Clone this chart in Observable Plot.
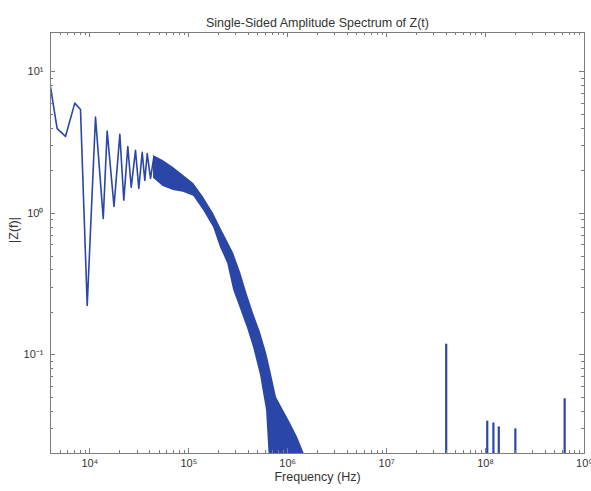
<!DOCTYPE html>
<html><head><meta charset="utf-8">
<script src="https://cdn.jsdelivr.net/npm/d3@7"></script>
<script src="https://cdn.jsdelivr.net/npm/@observablehq/plot@0.6"></script>
<style>
html,body{margin:0;padding:0;background:#fff;}
</style></head><body><div id="chart"></div>
<script>
// Resolved oscillations at low frequency (Hz, |Z(f)|)
const lineFreq = [4000, 4670, 5670, 7040, 8040, 9400, 11400, 13650, 14960, 17540, 20090, 22030, 24180, 26180, 28920, 31240, 33820, 35920, 38000, 41020, 44290];
const lineAmp  = [7.81, 3.97, 3.50, 6.02, 5.43, 0.224, 4.79, 0.922, 3.82, 1.12, 3.62, 1.24, 2.97, 1.53, 2.79, 1.50, 2.70, 1.71, 2.65, 1.77, 2.49];

// Dense oscillation band: envelope
const bandFreq  = [44000, 55000, 70000, 88000, 112000, 141000, 178000, 209000, 247000, 284000, 334000, 393000, 451000, 531000, 611000, 671000, 771000, 908000, 1070000, 1260000, 1450000, 1700000];
const bandUpper = [2.57, 2.37, 2.11, 1.86, 1.63, 1.30, 1.00, 0.796, 0.634, 0.522, 0.383, 0.263, 0.197, 0.144, 0.103, 0.078, 0.050, 0.0405, 0.0328, 0.0261, 0.0205, 0.0141];
const bandLower = [1.77, 1.55, 1.45, 1.41, 1.32, 1.05, 0.796, 0.575, 0.443, 0.286, 0.210, 0.154, 0.113, 0.0716, 0.0405, 0.013, 0.005, 0.005, 0.005, 0.005, 0.005, 0.005];

// Isolated spectral lines at high frequency
const spikeFreq = [4.0e7, 1.04e8, 1.2e8, 1.36e8, 2.0e8, 6.3e8];
const spikeAmp  = [0.119, 0.034, 0.033, 0.031, 0.030, 0.049];

// Axes
const xDomain = [4000, 1e9];
const yDomain = [0.0201, 19];
const xMajor = [1e4, 1e5, 1e6, 1e7, 1e8, 1e9];
const yMajor = [0.1, 1, 10];

const title = "Single-Sided Amplitude Spectrum of Z(t)";
const xLabel = "Frequency (Hz)";
const yLabel = "|Z(f)|";

const minorTicks = (lo, hi) => {
  const out = [];
  for (let e = Math.floor(Math.log10(lo)); e <= Math.ceil(Math.log10(hi)); e++)
    for (let m = 2; m <= 9; m++) { const v = m * Math.pow(10, e); if (v > lo && v < hi) out.push(v); }
  return out;
};
const xMinor = minorTicks(...xDomain);
const yMinor = minorTicks(...yDomain);
const xMajorIn = xMajor.filter(v => v < xDomain[1]);

const supMap = {"-": "\u207B", "0": "\u2070", "1": "\u00B9", "2": "\u00B2", "3": "\u00B3", "4": "\u2074", "5": "\u2075", "6": "\u2076", "7": "\u2077", "8": "\u2078", "9": "\u2079"};
const fmt = d => "10" + String(Math.round(Math.log10(d))).split("").map(c => supMap[c]).join("");

const lowLine = lineFreq.map((f, i) => ({f, a: lineAmp[i]}));
const band = bandFreq.map((f, i) => ({f, hi: bandUpper[i], lo: bandLower[i]}));
const spikes = spikeFreq.map((f, i) => ({f, a: spikeAmp[i]}));

const blue = "#2a46a6";
const axisColor = "#7d7d7d";
const textColor = "#333";
const font = "'Liberation Sans', Arial, Helvetica, sans-serif";
const MAJ = 5, MIN = 3;

// Inward tick marks on all four sides, positioned through Plot's own x / y scales
function inwardTicks(index, scales, values, dims) {
  const g = d3.create("svg:g").attr("stroke", axisColor).attr("stroke-width", 1).attr("fill", "none");
  const top = dims.marginTop, bottom = dims.height - dims.marginBottom;
  const left = dims.marginLeft, right = dims.width - dims.marginRight;
  for (const [vals, len] of [[xMajorIn, MAJ], [xMinor, MIN]]) {
    for (const v of vals) {
      const x = Math.round(scales.x(v)) + 0.5;
      g.append("line").attr("x1", x).attr("x2", x).attr("y1", bottom).attr("y2", bottom - len);
      g.append("line").attr("x1", x).attr("x2", x).attr("y1", top).attr("y2", top + len);
    }
  }
  for (const [vals, len] of [[yMajor, MAJ], [yMinor, MIN]]) {
    for (const v of vals) {
      const y = Math.round(scales.y(v)) + 0.5;
      g.append("line").attr("y1", y).attr("y2", y).attr("x1", left).attr("x2", left + len);
      g.append("line").attr("y1", y).attr("y2", y).attr("x1", right).attr("x2", right - len);
    }
  }
  return g.node();
}

const chart = Plot.plot({
  width: 591,
  height: 491,
  marginLeft: 50,
  marginRight: 7,
  marginTop: 32,
  marginBottom: 38,
  style: {fontFamily: font, fontSize: "11px", color: textColor, background: "#fff"},
  x: {type: "log", domain: xDomain},
  y: {type: "log", domain: yDomain},
  marks: [
    Plot.areaY(band, {x: "f", y1: "lo", y2: "hi", fill: blue, clip: true}),
    Plot.line(lowLine, {x: "f", y: "a", stroke: blue, strokeWidth: 1.6, clip: true}),
    Plot.ruleX(spikes, {x: "f", y1: yDomain[0], y2: "a", stroke: blue, strokeWidth: 2.2}),
    Plot.frame({stroke: axisColor}),
    inwardTicks,
    // tick labels
    Plot.axisX({anchor: "bottom", ticks: xMajor, tickSize: 0, tickPadding: 6, tickFormat: fmt, fill: textColor, fontSize: 11, label: null}),
    Plot.axisY({anchor: "left", ticks: yMajor, tickSize: 0, tickPadding: 7, tickFormat: fmt, fill: textColor, fontSize: 11, label: null}),
    // titles
    Plot.text([title], {text: d => d, frameAnchor: "top", dy: -14, fill: textColor, fontSize: 12.5}),
    Plot.text([xLabel], {text: d => d, frameAnchor: "bottom", dy: 27, fill: textColor, fontSize: 12.5}),
    Plot.text([yLabel], {text: d => d, frameAnchor: "left", dx: -37, rotate: -90, fill: textColor, fontSize: 12.5})
  ]
});
document.getElementById("chart").appendChild(chart);
</script>
</body></html>
